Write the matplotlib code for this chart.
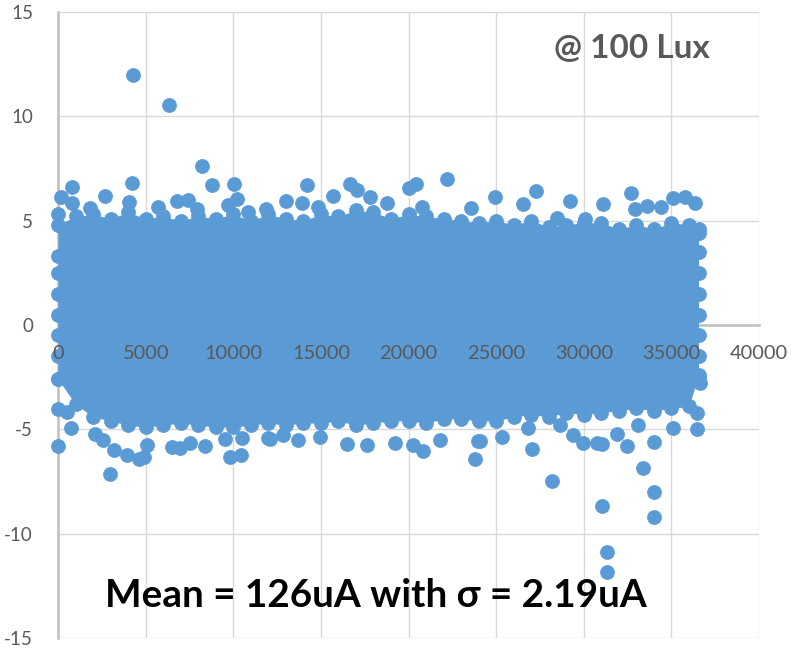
import matplotlib.pyplot as plt

# dense band: centre of the outermost markers, read every 1000 samples
env_x = [0, 1000, 2000, 3000, 4000, 5000, 6000, 7000, 8000, 9000, 10000, 11000, 12000,
         13000, 14000, 15000, 16000, 17000, 18000, 19000, 20000, 21000, 22000, 23000, 24000,
         25000, 26000, 27000, 28000, 29000, 30000, 31000, 32000, 33000, 34000, 35000, 36000, 36550]
env_top = [4.8, 5.2, 5.3, 5.1, 5.4, 5.1, 5.2, 5.0, 5.2, 5.1, 5.3, 5.0, 5.3,
           5.1, 5.0, 5.3, 5.2, 5.5, 5.4, 5.1, 5.3, 5.2, 5.1, 5.0, 4.9,
           5.0, 4.8, 5.0, 4.7, 4.8, 4.9, 4.9, 4.6, 4.8, 4.6, 4.9, 4.8, 4.6]
env_bottom = [-2.6, -3.8, -4.4, -4.6, -4.8, -4.9, -4.8, -4.7, -4.8, -4.9, -4.9, -4.8, -4.7,
              -4.8, -4.7, -4.7, -4.6, -4.8, -4.7, -4.6, -4.6, -4.7, -4.5, -4.5, -4.6,
              -4.6, -4.4, -4.3, -4.4, -4.2, -4.3, -4.2, -4.1, -4.0, -4.1, -4.0, -3.9, -2.4]
left_edge_y = [-2.6, -1.5, -0.5, 0.5, 1.5, 2.5, 3.3]
right_edge_y = [-2.5, -1.5, -0.5, 0.5, 1.5, 2.5, 3.5, 4.4]

# single points sticking out above the band
top_points = [(4280, 12.0), (6330, 10.54), (8220, 7.62), (8790, 6.71), (10040, 6.76), (4220, 6.8),
              (800, 6.6), (14210, 6.71), (16680, 6.76), (13010, 5.94), (13920, 5.87), (170, 6.13),
              (2680, 6.2), (15700, 6.2), (17050, 6.45), (22200, 7.02), (20400, 6.78), (20030, 6.56),
              (24960, 6.13), (27280, 6.42), (29200, 5.94), (32700, 6.32), (23570, 5.6), (31100, 5.8),
              (32930, 5.58), (33600, 5.7), (34400, 5.65), (35750, 6.15), (35090, 6.1), (36350, 5.85),
              (26530, 5.78), (4050, 5.9), (1830, 5.6), (5700, 5.65), (6790, 5.94), (7420, 6.0),
              (7930, 5.56), (9700, 5.75), (10200, 6.04), (10840, 5.41), (11870, 5.56), (0, 5.32),
              (800, 5.84), (14840, 5.65), (17800, 6.13), (18770, 5.85), (20770, 5.65), (30070, 5.08),
              (28470, 5.13)]

# and below it
bottom_points = [(0, -5.8), (0, -4.05), (500, -4.17), (740, -4.93), (2110, -5.22), (2970, -7.14),
                 (3200, -5.99), (3940, -6.23), (4620, -6.42), (4900, -6.35), (5080, -5.75),
                 (6500, -5.85), (6960, -5.9), (7530, -5.65), (8390, -5.8), (9530, -5.46),
                 (9810, -6.33), (10440, -6.23), (10500, -5.41), (11980, -5.41), (2570, -5.51),
                 (12840, -5.27), (13700, -5.51), (14950, -5.37), (16490, -5.7), (17630, -5.75),
                 (19230, -5.65), (20260, -5.75), (20830, -6.04), (21800, -5.51), (23790, -6.42),
                 (23970, -5.56), (25340, -5.37), (12100, -5.46), (26820, -4.94), (27050, -5.94),
                 (28190, -7.47), (29390, -5.27), (29960, -5.65), (30750, -5.65), (31040, -8.67),
                 (31900, -5.22), (32470, -5.8), (33100, -4.79), (33380, -6.85), (34010, -5.61),
                 (34010, -8.0), (34010, -9.2), (35090, -4.94), (36460, -4.98), (36460, -4.22),
                 (36630, -2.78), (31330, -10.88), (31330, -11.84), (28640, -4.79), (31040, -5.7),
                 (24080, -5.56)]

x_ticks = [0, 5000, 10000, 15000, 20000, 25000, 30000, 35000, 40000]
y_ticks = [-15, -10, -5, 0, 5, 10, 15]

blue = "#5B9BD5"
grey = "#595959"
fam = ["Lato", "DejaVu Sans"]
plt.rcParams['font.family'] = fam
plt.rcParams['axes.unicode_minus'] = False

fig = plt.figure(figsize=(7.91, 6.49), dpi=100)
ax = fig.add_axes([0.0733, 0.0170, 0.8863, 0.9645])
ax.set_xlim(0, 40000)
ax.set_ylim(-15, 15)
ax.set_axisbelow(True)
ax.grid(True, color="#d9d9d9", linewidth=1.0)

for s in ["top", "right"]:
    ax.spines[s].set_visible(False)
ax.spines["left"].set_color("#bfbfbf")
ax.spines["left"].set_linewidth(1.8)
ax.spines["bottom"].set_position(("data", 0))
ax.spines["bottom"].set_color("#bfbfbf")
ax.spines["bottom"].set_linewidth(1.8)

mk = dict(s=102, color=blue, edgecolors=blue, linewidths=0.5, zorder=3, clip_on=False)
ax.fill_between(env_x, env_bottom, env_top, color=blue, linewidth=0, zorder=3)
ax.scatter(env_x, env_top, **mk)
ax.scatter(env_x, env_bottom, **mk)
ax.scatter([env_x[0]] * len(left_edge_y), left_edge_y, **mk)
ax.scatter([env_x[-1]] * len(right_edge_y), right_edge_y, **mk)
ax.scatter([p[0] for p in top_points], [p[1] for p in top_points], **mk)
ax.scatter([p[0] for p in bottom_points], [p[1] for p in bottom_points], **mk)

ax.set_yticks(y_ticks)
ax.set_yticklabels([str(v) for v in y_ticks])
ax.tick_params(axis="y", length=0, pad=18, labelsize=13.5, labelcolor=grey)
ax.set_xticks(x_ticks)
ax.tick_params(axis="x", length=0, labelbottom=False)

# Excel puts the x labels on top of the markers
for v in x_ticks:
    ax.annotate(str(v), xy=(v, 0), xytext=(0, -20), textcoords="offset pixels",
                ha="center", va="top", fontsize=14.4, color=grey, zorder=5,
                annotation_clip=False)

ax.text(37200, 13.27, "@ 100 Lux", ha="right", va="center", fontsize=24,
        fontweight="bold", color=grey, family=fam, zorder=6)
ax.text(18150, -12.98, "Mean = 126uA with σ = 2.19uA", ha="center", va="center",
        fontsize=27.9, fontweight="bold", color="black", family=fam, zorder=6)

fig.savefig("out.png", dpi=100)
